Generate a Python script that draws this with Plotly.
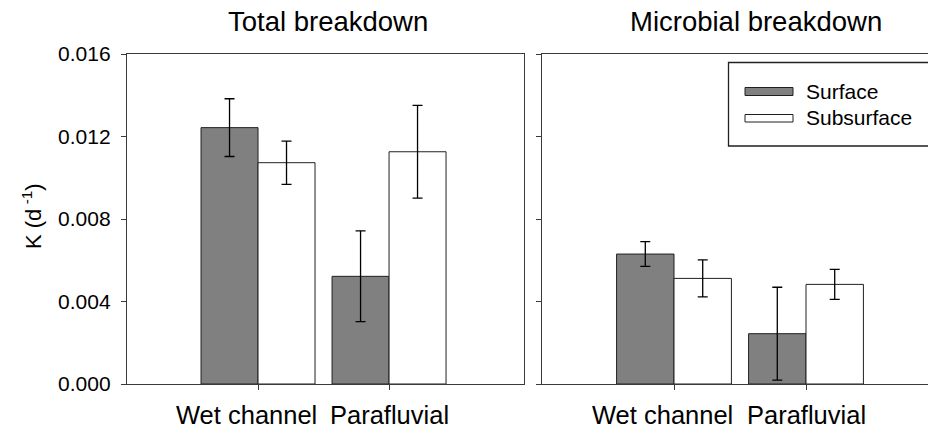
import plotly.graph_objects as go

W, H = 928, 428

categories = ["Wet channel", "Parafluvial"]
series_names = ["Surface", "Subsurface"]

total_surface = [0.01243, 0.00522]
total_surface_err = [0.0014, 0.0022]
total_subsurface = [0.01073, 0.01126]
total_subsurface_err = [0.00105, 0.00225]

micro_surface = [0.00630, 0.00244]
micro_surface_err = [0.0006, 0.00225]
micro_subsurface = [0.00512, 0.00483]
micro_subsurface_err = [0.0009, 0.00073]

y_ticks = [0.0, 0.004, 0.008, 0.012, 0.016]
panel_titles = ["Total breakdown", "Microbial breakdown"]
y_title = "K (d<sup> -1</sup>)"

FONT = "Liberation Sans, Arial, sans-serif"
GRAY = "#808080"
LINE = "#202020"
AXIS = "#3a3a3a"

def px(x):
    return x / W

def py(y):
    return 1 - y / H

x_idx = list(range(len(categories)))

fig = go.Figure()

def add_pair(surf, surf_err, sub, sub_err, xa, ya):
    fig.add_trace(go.Bar(
        x=x_idx, y=surf, name=series_names[0], xaxis=xa, yaxis=ya,
        marker=dict(color=GRAY, line=dict(color=LINE, width=1)),
        error_y=dict(type="data", array=surf_err, color="black", thickness=1.3, width=5),
        showlegend=False, offsetgroup="s",
    ))
    fig.add_trace(go.Bar(
        x=x_idx, y=sub, name=series_names[1], xaxis=xa, yaxis=ya,
        marker=dict(color="white", line=dict(color=LINE, width=1)),
        error_y=dict(type="data", array=sub_err, color="black", thickness=1.3, width=5),
        showlegend=False, offsetgroup="u",
    ))

add_pair(total_surface, total_surface_err, total_subsurface, total_subsurface_err, "x", "y")
add_pair(micro_surface, micro_surface_err, micro_subsurface, micro_subsurface_err, "x2", "y2")

y_dom = [py(384), py(54)]

common_x = dict(showline=True, linecolor=AXIS, linewidth=1.3, ticks="outside", ticklen=5,
                tickcolor=AXIS, tickwidth=1.2, tickvals=x_idx, showticklabels=False,
                showgrid=False, zeroline=False, mirror=True, automargin=False)
common_y = dict(showline=True, linecolor=AXIS, linewidth=1.3, ticks="outside", ticklen=5,
                tickcolor=AXIS, tickwidth=1.2, tickvals=y_ticks, range=[0, 0.016],
                showgrid=False, zeroline=False, domain=y_dom, automargin=False)

fig.update_layout(
    width=W, height=H,
    margin=dict(l=0, r=0, t=0, b=0, autoexpand=False),
    paper_bgcolor="white", plot_bgcolor="white",
    barmode="group", bargap=0.13, bargroupgap=0,
    font=dict(family=FONT, color="black"),
    showlegend=False,
    xaxis=dict(**common_x, domain=[px(127), px(524)], range=[-1.0, 2.03], anchor="y"),
    yaxis=dict(**common_y, anchor="x", mirror=True, tickformat=".3f",
               tickfont=dict(size=21, family=FONT, color="black"), ticklabelstandoff=6),
    xaxis2=dict(**common_x, domain=[px(542), 1.0], range=[-1.0, (928 - 674) / 132], anchor="y2"),
    yaxis2=dict(**common_y, anchor="x2", mirror=False, showticklabels=False),
)

ann = []
ann.append(dict(text=panel_titles[0], x=px(327.5), y=py(22), xref="paper", yref="paper",
                showarrow=False, xanchor="center", yanchor="middle", font=dict(size=27.5)))
ann.append(dict(text=panel_titles[1], x=px(756), y=py(22), xref="paper", yref="paper",
                showarrow=False, xanchor="center", yanchor="middle", font=dict(size=27.5)))
ann.append(dict(text=y_title, x=px(32), y=py(216), xref="paper", yref="paper", textangle=-90,
                showarrow=False, xanchor="center", yanchor="middle", font=dict(size=22)))
shifts = [-12, 0]
for xa in ["x", "x2"]:
    for i, c in enumerate(categories):
        ann.append(dict(text=c, x=x_idx[i], y=py(415), xref=xa, yref="paper", xshift=shifts[i],
                        showarrow=False, xanchor="center", yanchor="middle", font=dict(size=25.5)))
ann.append(dict(text=series_names[0], x=px(804), y=py(91.5), xref="paper", yref="paper",
                showarrow=False, xanchor="left", yanchor="middle", font=dict(size=21)))
ann.append(dict(text=series_names[1], x=px(804), y=py(118), xref="paper", yref="paper",
                showarrow=False, xanchor="left", yanchor="middle", font=dict(size=21)))

shapes = [
    dict(type="rect", xref="paper", yref="paper", x0=px(728.5), x1=1.02, y0=py(146), y1=py(62.5),
         line=dict(color=LINE, width=1.3), fillcolor="white", layer="above"),
    dict(type="rect", xref="paper", yref="paper", x0=px(745), x1=px(793), y0=py(95.5), y1=py(87.5),
         line=dict(color=LINE, width=1), fillcolor=GRAY, layer="above"),
    dict(type="rect", xref="paper", yref="paper", x0=px(745), x1=px(793), y0=py(122), y1=py(114.5),
         line=dict(color=LINE, width=1), fillcolor="white", layer="above"),
]

fig.update_layout(annotations=ann, shapes=shapes)

fig.write_html("out.html")
